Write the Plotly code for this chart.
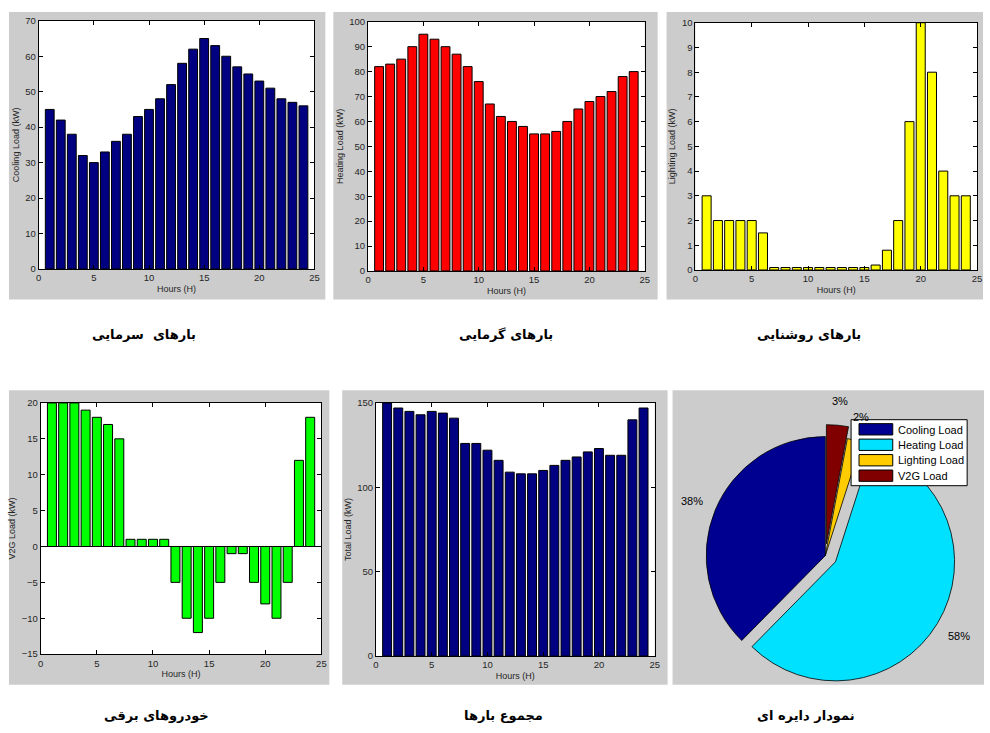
import math
import plotly.graph_objects as go

# ---------------- data ----------------
hours = list(range(1, 25))
cooling_load = [45, 42, 38, 32, 30, 33, 36, 38, 43, 45, 48, 52, 58, 62, 65, 63, 60, 57, 55, 53, 51, 48, 47, 46]
heating_load = [82, 83, 85, 90, 95, 93, 90, 87, 82, 76, 67, 62, 60, 58, 55, 55, 56, 60, 65, 68, 70, 72, 78, 80]
lighting_load = [3, 2, 2, 2, 2, 1.5, 0.1, 0.1, 0.1, 0.1, 0.1, 0.1, 0.1, 0.1, 0.1, 0.2, 0.8, 2, 6, 10, 8, 4, 3, 3]
v2g_load = [20, 20, 20, 19, 18, 17, 15, 1, 1, 1, 1, -5, -10, -12, -10, -5, -1, -1, -5, -8, -10, -5, 12, 18]
total_load = [150, 147, 145, 143, 145, 144, 141, 126, 126, 122, 116, 109, 108, 108, 110, 113, 116, 118, 121, 123, 119, 119, 140, 147]

pie_labels = ["Cooling Load", "Heating Load", "Lighting Load", "V2G Load"]
pie_values = [38, 58, 2, 3]
pie_pull = [0, 0.1, 0, 0.1]

x_ticks = [0, 5, 10, 15, 20, 25]
captions_top = ["بارهای  سرمایی", "بارهای گرمایی", "بارهای روشنایی"]
captions_bottom = ["خودروهای برقی", "مجموع بارها", "نمودار دایره ای"]

# ---------------- layout helpers ----------------
W, H = 990, 733
def px_x(v):
    return v / W
def px_y(v):
    return 1 - v / H

panels = [
    dict(y=cooling_load, color="#000080", title="Cooling Load (kW)", yr=[0, 70], dt=10,
         dom=(36, 314, 15, 267)),
    dict(y=heating_load, color="#FF0000", title="Heating Load (kW)", yr=[0, 100], dt=10,
         dom=(368, 647, 16, 269)),
    dict(y=lighting_load, color="#FFFF00", title="Lighting Load (kW)", yr=[0, 10], dt=1,
         dom=(698, 982, 17, 268)),
    dict(y=v2g_load, color="#00FF00", title="V2G Load (kW)", yr=[-15, 20], dt=5,
         dom=(38, 321, 403, 658)),
    dict(y=total_load, color="#000080", title="Total Load (kW)", yr=[0, 150], dt=50,
         dom=(376, 657, 403, 660)),
]

gray_boxes = [(6, 325, 6, 298), (333, 660, 6, 298), (669, 988, 6, 298),
              (6, 329, 390, 689), (342, 670, 390, 689), (675, 989, 390, 689)]

tick_font = dict(family="Liberation Sans, Arial, sans-serif", size=9.5, color="#262626")
title_font = dict(family="Liberation Sans, Arial, sans-serif", size=9, color="#262626")

fig = go.Figure()
shapes = []
annotations = []
for (x0, x1, y0, y1) in gray_boxes:
    shapes.append(dict(type="rect", xref="paper", yref="paper",
                       x0=px_x(x0), x1=px_x(x1), y0=px_y(y1), y1=px_y(y0),
                       fillcolor="#CCCCCC", line=dict(width=0), layer="below"))

layout_axes = {}
for i, p in enumerate(panels, start=1):
    xa = "x" if i == 1 else f"x{i}"
    ya = "y" if i == 1 else f"y{i}"
    fig.add_trace(go.Bar(x=hours, y=p["y"], xaxis=xa, yaxis=ya, width=0.8,
                         marker=dict(color=p["color"], line=dict(color="black", width=1)),
                         showlegend=False, hoverinfo="x+y"))
    x0, x1, y0, y1 = p["dom"]
    common = dict(showline=True, linecolor="black", linewidth=1, mirror="ticks",
                  ticks="inside", ticklen=4, tickcolor="black", showgrid=False,
                  tickfont=tick_font)
    layout_axes["xaxis" if i == 1 else f"xaxis{i}"] = dict(
        domain=[px_x(x0), px_x(x1)], range=[0, 25], tickvals=x_ticks,
        anchor=ya, zeroline=False,
        title=dict(text="Hours (H)", font=title_font, standoff=3), **common)
    layout_axes["yaxis" if i == 1 else f"yaxis{i}"] = dict(
        domain=[px_y(y1), px_y(y0)], range=p["yr"], dtick=p["dt"],
        anchor=xa, zeroline=(p["yr"][0] < 0), zerolinecolor="black", zerolinewidth=1,
        title=dict(text=p["title"], font=title_font, standoff=4), **common)
    # white plot background
    shapes.append(dict(type="rect", xref=f"{xa} domain", yref=f"{ya} domain",
                       x0=0, x1=1, y0=0, y1=1, fillcolor="white",
                       line=dict(width=0), layer="below"))

# ---------------- pie ----------------
# plotly's counterclockwise pies end the first slice at 12 o'clock; rotate so it starts there
total = sum(pie_values)
pie_rotation = -pie_values[0] / total * 360

pie_box = (696, 962, 425, 691)  # pixel box of the pie domain
pie_colors = ["#000090", "#00E1FF", "#FFCC00", "#800000"]
fig.add_trace(go.Pie(
    labels=pie_labels, values=pie_values, pull=pie_pull,
    textinfo="none",
    marker=dict(colors=pie_colors, line=dict(color="black", width=0.8)),
    sort=False, direction="counterclockwise", rotation=pie_rotation,
    domain=dict(x=[px_x(pie_box[0]), px_x(pie_box[1])],
                y=[px_y(pie_box[3]), px_y(pie_box[2])]),
    hoverinfo="label+percent", showlegend=False,
))

# MATLAB-style percentage labels at 1.2 radius along each slice's mid-angle
cx = (pie_box[0] + pie_box[1]) / 2
cy = (pie_box[2] + pie_box[3]) / 2
radius = (pie_box[1] - pie_box[0]) / 2 / (1 + max(pie_pull))
cum = 0.0
for v, pull in zip(pie_values, pie_pull):
    mid = (cum + v / 2) / total * 2 * math.pi
    cum += v
    d = radius * (1.2 + pull)
    annotations.append(dict(text=f"{v}%", x=px_x(cx - d * math.sin(mid)),
                            y=px_y(cy - d * math.cos(mid)), xref="paper", yref="paper",
                            showarrow=False, xanchor="center", yanchor="middle",
                            font=dict(family="Liberation Sans, Arial, sans-serif", size=11,
                                      color="black")))

# MATLAB-style legend box (wide colour patches) for the pie
leg_x0, leg_x1, leg_y0, leg_y1 = 855, 972, 420, 487
shapes.append(dict(type="rect", xref="paper", yref="paper",
                   x0=px_x(leg_x0), x1=px_x(leg_x1), y0=px_y(leg_y1), y1=px_y(leg_y0),
                   fillcolor="white", line=dict(color="black", width=1), layer="above"))
row_h = 15.7
for k, (lab, col) in enumerate(zip(pie_labels, pie_colors)):
    top = leg_y0 + 4 + k * row_h
    shapes.append(dict(type="rect", xref="paper", yref="paper",
                       x0=px_x(leg_x0 + 8), x1=px_x(leg_x0 + 42),
                       y0=px_y(top + 11.5), y1=px_y(top),
                       fillcolor=col, line=dict(color="black", width=1), layer="above"))
    annotations.append(dict(text=lab, x=px_x(leg_x0 + 45), y=px_y(top + 6),
                            xref="paper", yref="paper", showarrow=False,
                            xanchor="left", yanchor="middle",
                            font=dict(family="Liberation Sans, Arial, sans-serif", size=11,
                                      color="black")))

cap_font = dict(family="DejaVu Sans, sans-serif", size=13, color="black", weight="bold")
for txt, cxp in zip(captions_top, [142, 507, 813]):
    annotations.append(dict(text=txt, x=px_x(cxp), y=px_y(333), xref="paper", yref="paper",
                            showarrow=False, font=cap_font, xanchor="center", yanchor="middle"))
for txt, cxp in zip(captions_bottom, [155, 505, 810]):
    annotations.append(dict(text=txt, x=px_x(cxp), y=px_y(720), xref="paper", yref="paper",
                            showarrow=False, font=cap_font, xanchor="center", yanchor="middle"))

fig.update_layout(
    width=W, height=H, margin=dict(l=0, r=0, t=0, b=0),
    paper_bgcolor="white", plot_bgcolor="rgba(0,0,0,0)",
    shapes=shapes, annotations=annotations, bargap=0.2, showlegend=False,
    **layout_axes,
)

fig.write_html("out.html", config={"displayModeBar": False},
               post_script="document.body.style.margin='0px';document.body.style.overflow='hidden';")
